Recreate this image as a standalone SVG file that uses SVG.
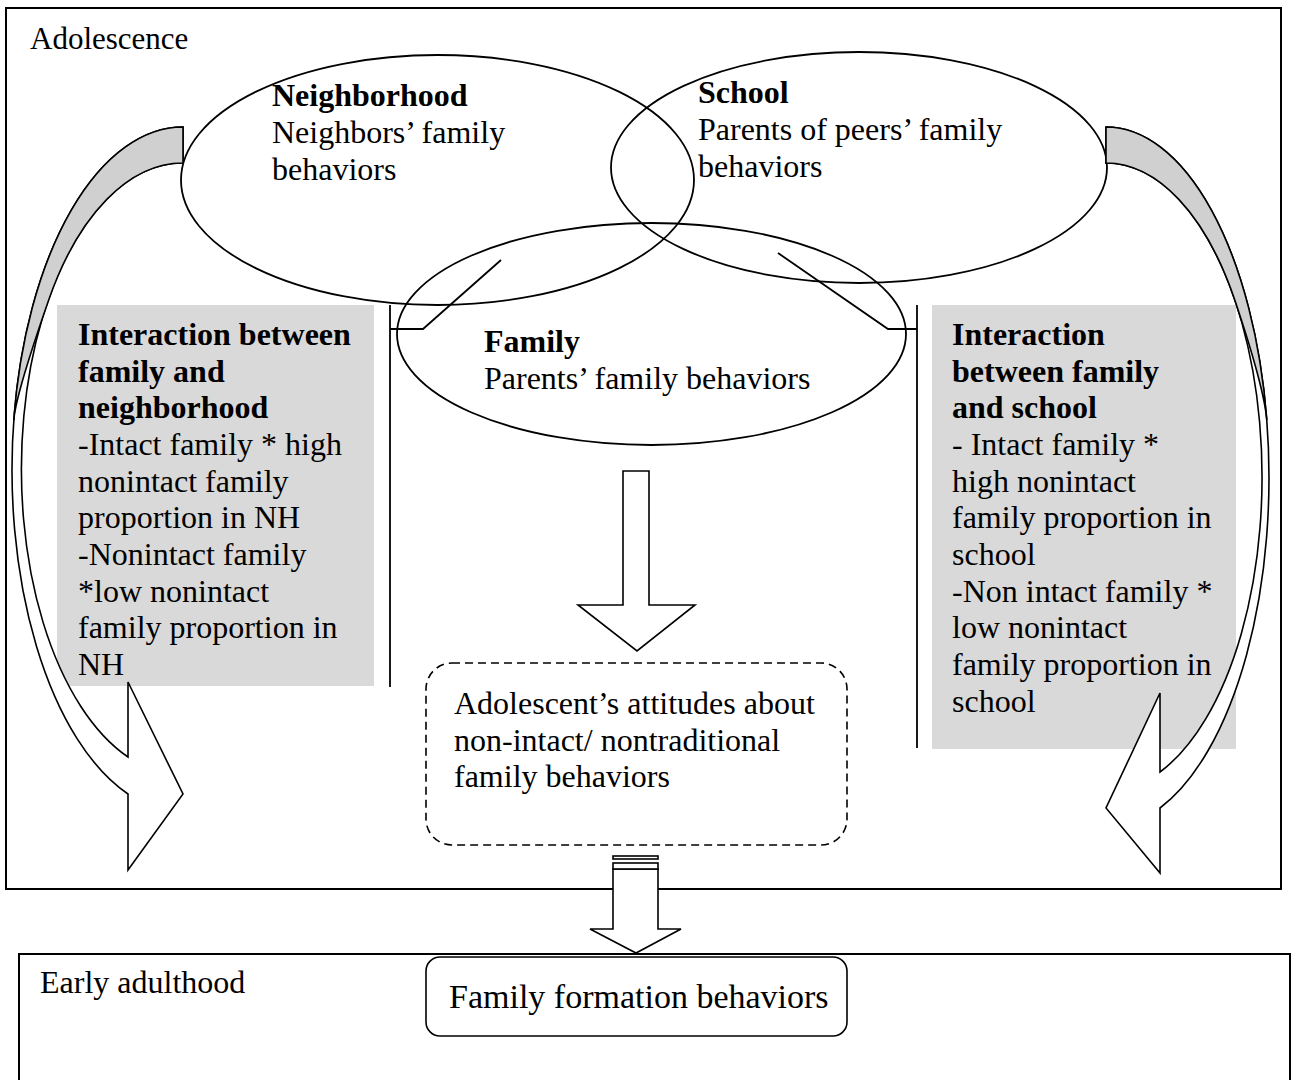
<svg xmlns="http://www.w3.org/2000/svg" width="1298" height="1080" viewBox="0 0 1298 1080">
<style>
text{font-family:"Liberation Serif","Times New Roman",serif;font-size:32px;fill:#000}
.b{font-weight:bold}
.frame{fill:none;stroke:#000;stroke-width:2}
.ell{fill:none;stroke:#000;stroke-width:1.8}
.gbox{fill:#d9d9d9;stroke:none}
.ln{fill:none;stroke:#000;stroke-width:1.8}
.arr{fill:#fff;stroke:#000;stroke-width:1.6;stroke-linejoin:miter}
.back{fill:#d0d0d0;stroke:#000;stroke-width:1.6}
</style>
<rect width="1298" height="1080" fill="#fff"/>
<g id="adolescence">
<rect class="frame" x="6" y="8" width="1275" height="881"/>
<text x="30" y="49" style="font-size:31px">Adolescence</text>
</g>
<g id="early-adulthood">
<rect class="frame" x="19" y="954" width="1271" height="140"/>
<text x="40" y="993">Early adulthood</text>
</g>
<g id="left-box">
<rect class="gbox" x="57" y="305" width="317" height="381"/>
<text x="78" y="345" class="b">Interaction between</text>
<text x="78" y="382" class="b">family and</text>
<text x="78" y="418" class="b">neighborhood</text>
<text x="78" y="455">-Intact family * high</text>
<text x="78" y="492">nonintact family</text>
<text x="78" y="528">proportion in NH</text>
<text x="78" y="565">-Nonintact family</text>
<text x="78" y="602">*low nonintact</text>
<text x="78" y="638">family proportion in</text>
<text x="78" y="675">NH</text>
</g>
<g id="right-box">
<rect class="gbox" x="932" y="305" width="304" height="444"/>
<text x="952" y="345" class="b">Interaction</text>
<text x="952" y="382" class="b">between family</text>
<text x="952" y="418" class="b">and school</text>
<text x="952" y="455">- Intact family *</text>
<text x="952" y="492">high nonintact</text>
<text x="952" y="528">family proportion in</text>
<text x="952" y="565">school</text>
<text x="952" y="602">-Non intact family *</text>
<text x="952" y="638">low nonintact</text>
<text x="952" y="675">family proportion in</text>
<text x="952" y="712">school</text>
</g>
<g id="neighborhood">
<ellipse class="ell" cx="437.5" cy="180" rx="256.5" ry="125"/>
<text x="272" y="106" class="b">Neighborhood</text>
<text x="272" y="143">Neighbors’ family</text>
<text x="272" y="180">behaviors</text>
</g>
<g id="school">
<ellipse class="ell" cx="859" cy="167.5" rx="248" ry="115.5"/>
<text x="698" y="103" class="b">School</text>
<text x="698" y="140">Parents of peers’ family</text>
<text x="698" y="177">behaviors</text>
</g>
<g id="family">
<ellipse class="ell" cx="651.5" cy="334" rx="254.5" ry="111"/>
<text x="484" y="352" class="b">Family</text>
<text x="484" y="389">Parents’ family behaviors</text>
</g>
<g id="attitudes">
<rect x="426" y="663" width="421" height="182" rx="26" fill="#fff" stroke="#000" stroke-width="1.6" stroke-dasharray="8,5"/>
<text x="454" y="714">Adolescent’s attitudes about</text>
<text x="454" y="751">non-intact/ nontraditional</text>
<text x="454" y="787">family behaviors</text>
</g>
<g id="formation">
<rect x="426" y="957" width="421" height="79" rx="14" fill="#fff" stroke="#000" stroke-width="1.6"/>
<text x="449" y="1008" style="font-size:34px">Family formation behaviors</text>
</g>
<g id="connectors">
<line class="ln" x1="390" y1="305" x2="390" y2="687"/>
<polyline class="ln" points="501,260 423,329 390,329"/>
<line class="ln" x1="917" y1="305" x2="917" y2="748"/>
<polyline class="ln" points="778,253 888,329 917,329"/>
<path class="arr" d="M623,471 H649 V605 H695 L637,651 L578,605 H623 Z"/>
<path class="arr" d="M613,869 H658 V929 H681 L636,953 L590,929 H613 Z"/>
<rect class="arr" x="613" y="863" width="45" height="6"/>
<rect class="arr" x="613" y="856" width="45" height="3"/>
<path class="arr" d="M183,127 A171,342.6 0 0 0 128,794 L128,870 L183,794 L128,682 L128,757 A161,306 0 0 1 183,163 Z"/>
<path class="back" d="M183,127 A171,342.6 0 0 0 13.8,420 Q15.6,395 48.7,300 A161,306 0 0 1 183,163 Z"/>
<path class="arr" d="M1106,127 A163,350.4 0 0 1 1160,808 L1160,873 L1106,808 L1160,693 L1160,772 A156,314.2 0 0 0 1106,163 Z"/>
<path class="back" d="M1106,127 A163,350.4 0 0 1 1266.8,420 Q1264,387 1234.8,300 A156,314.2 0 0 0 1106,163 Z"/>
</g>
</svg>
